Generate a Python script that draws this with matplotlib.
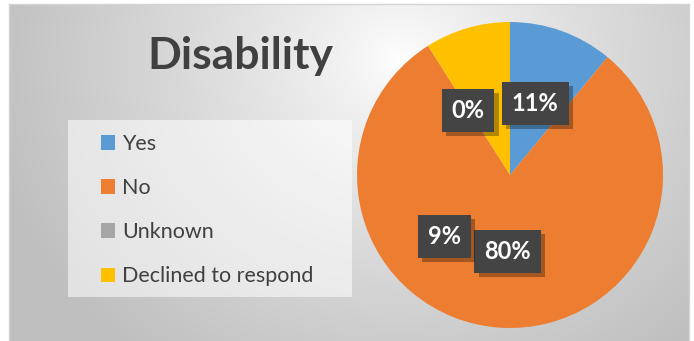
import numpy as np
import matplotlib.pyplot as plt
from matplotlib.patches import Rectangle, Patch
import matplotlib.patheffects as pe

# data
categories = ['Yes', 'No', 'Unknown', 'Declined to respond']
percents = [11, 80, 0, 9]
colors = ['#5B9BD5', '#ED7D31', '#A5A5A5', '#FFC000']
# where Excel left each data label (pie units, centre = 0,0)
label_pos = [(0.165, 0.47), (-0.015, -0.5), (-0.275, 0.42), (-0.43, -0.40)]

W, H = 694, 341
fig = plt.figure(figsize=(W / 100, H / 100), dpi=100)
fig.patch.set_facecolor('white')

# chart area with a soft radial gradient
bg = fig.add_axes([9 / W, 0, 680 / W, 337 / H])
yy, xx = np.mgrid[0:337, 0:680]
d = np.sqrt(((xx - 390) / 1.0) ** 2 + ((yy - 55) / 0.9) ** 2) / 420
d = np.clip(d, 0, 1) ** 0.8
shade = 1.0 - 0.25 * d
bg.imshow(np.dstack([shade] * 3), aspect='auto', extent=(0, 1, 0, 1), origin='upper')
bg.set_xticks([])
bg.set_yticks([])
for s in bg.spines.values():
    s.set_color('#d4d4d4')
    s.set_linewidth(1)
bg.spines['bottom'].set_visible(False)

# title
fig.text(240 / W, 1 - 56 / H, 'Disability', ha='center', va='center',
         fontsize=32, fontweight='bold', color='#404040', family='Lato')

# legend box
fig.patches.append(Rectangle((68 / W, 1 - 297 / H), 284 / W, 177 / H,
                             transform=fig.transFigure, facecolor='white',
                             alpha=0.55, edgecolor='none', zorder=1))
handles = [Patch(facecolor=c, edgecolor='none') for c in colors]
leg = fig.legend(handles, categories, loc='upper left',
                 bbox_to_anchor=(101 / W, 1 - 134 / H), frameon=False,
                 labelspacing=1.12, handlelength=0.65, borderaxespad=0,
                 handleheight=0.65, handletextpad=0.33, borderpad=0,
                 prop={'family': 'Lato', 'size': 15.5})
for t in leg.get_texts():
    t.set_color('#404040')

# pie
cx, cy, r = 510, 175, 153
ax = fig.add_axes([(cx - r) / W, (H - cy - r) / H, 2 * r / W, 2 * r / H])
ax.pie(percents, colors=colors, startangle=90, counterclock=False,
       radius=1, wedgeprops={'linewidth': 0})
ax.set_xlim(-1, 1)
ax.set_ylim(-1, 1)
ax.set_aspect('auto')
ax.axis('off')

for p, (x, y) in zip(percents, label_pos):
    t = ax.text(x, y, f'{p}%', ha='center', va='center', fontsize=17,
                fontweight='bold', color='white', family='Lato',
                bbox=dict(boxstyle='square,pad=0.42', facecolor='#444444',
                          edgecolor='none', linewidth=0))
    t.get_bbox_patch().set_path_effects([
        pe.SimplePatchShadow(offset=(3, -3), shadow_rgbFace='black', alpha=0.3),
        pe.Normal()])

fig.savefig('out.png', dpi=100)
